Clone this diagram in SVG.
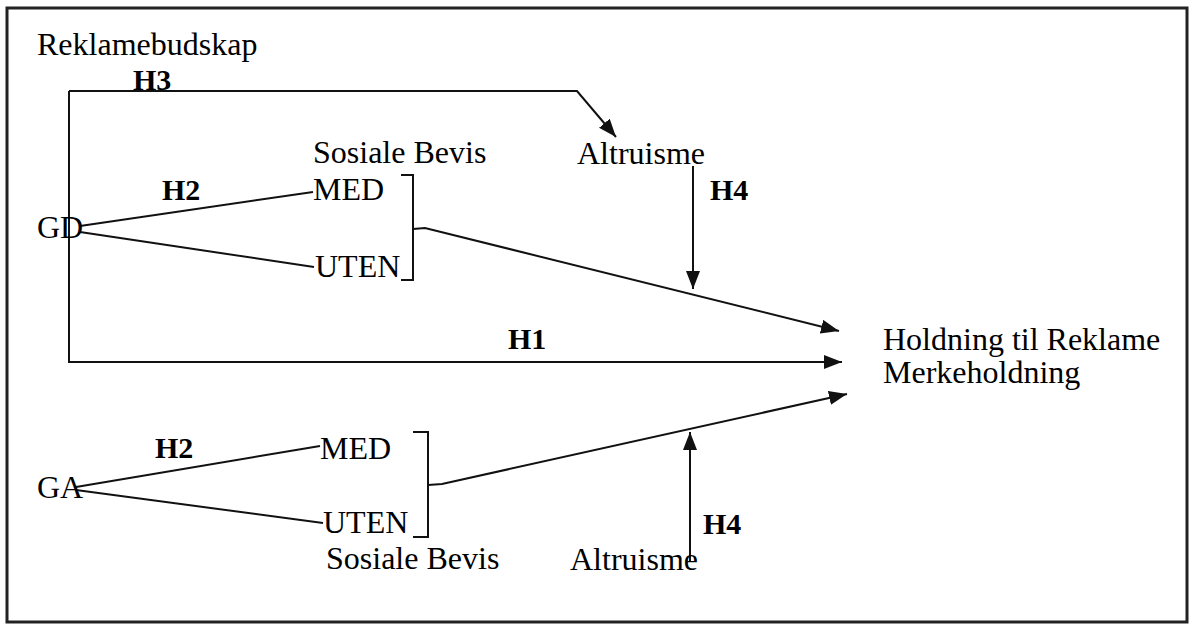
<svg xmlns="http://www.w3.org/2000/svg" width="1192" height="626" viewBox="0 0 1192 626">
<style>
text{font-family:"Liberation Serif","Times New Roman",serif;font-size:32px;fill:#000}
.h{font-weight:bold;font-size:30px}
.ln{fill:none;stroke:#111;stroke-width:2}
</style>
<defs>
<marker id="ah" markerUnits="userSpaceOnUse" markerWidth="20" markerHeight="16" refX="18" refY="7" orient="auto">
<path d="M0,0 L18,7 L0,14 z" fill="#111"/>
</marker>
</defs>
<rect x="0" y="0" width="1192" height="626" fill="#fff"/>
<rect id="frame" x="7" y="8" width="1180" height="614" fill="none" stroke="#222" stroke-width="3"/>
<g id="connectors">
<path class="ln" d="M69,91 H577 L616,137" marker-end="url(#ah)"/>
<path class="ln" d="M69,91 V362 H842" marker-end="url(#ah)"/>
<path class="ln" d="M80,226 L313,192"/>
<path class="ln" d="M80,232 L314,267"/>
<path class="ln" d="M401,175 H413 V280 H401"/>
<path class="ln" d="M413,229 L425,228 L839,331" marker-end="url(#ah)"/>
<path class="ln" d="M693,166 V289" marker-end="url(#ah)"/>
<path class="ln" d="M76,487 L320,446"/>
<path class="ln" d="M76,490 L323,523"/>
<path class="ln" d="M413,432 H428 V537 H413"/>
<path class="ln" d="M428,485 L442,484 L847,394" marker-end="url(#ah)"/>
<path class="ln" d="M690,562 V432" marker-end="url(#ah)"/>
</g>
<g id="reklamebudskap"><text x="37" y="55">Reklamebudskap</text></g>
<g id="label-h3"><text class="h" x="133" y="90">H3</text></g>
<g id="sosiale-top"><text x="313" y="163">Sosiale Bevis</text></g>
<g id="altruisme-top"><text x="577" y="164">Altruisme</text></g>
<g id="med-top"><text x="313" y="200">MED</text></g>
<g id="label-h2-top"><text class="h" x="162" y="200">H2</text></g>
<g id="label-h4-top"><text class="h" x="710" y="200">H4</text></g>
<g id="gd"><text x="37" y="238">GD</text></g>
<g id="uten-top"><text x="315" y="277">UTEN</text></g>
<g id="label-h1"><text class="h" x="508" y="349">H1</text></g>
<g id="holdning"><text x="883" y="350">Holdning til Reklame</text><text x="883" y="383">Merkeholdning</text></g>
<g id="label-h2-bottom"><text class="h" x="155" y="458">H2</text></g>
<g id="med-bottom"><text x="320" y="459">MED</text></g>
<g id="ga"><text x="37" y="498">GA</text></g>
<g id="uten-bottom"><text x="323" y="533">UTEN</text></g>
<g id="label-h4-bottom"><text class="h" x="703" y="534">H4</text></g>
<g id="sosiale-bottom"><text x="326" y="569">Sosiale Bevis</text></g>
<g id="altruisme-bottom"><text x="570" y="570">Altruisme</text></g>
</svg>
